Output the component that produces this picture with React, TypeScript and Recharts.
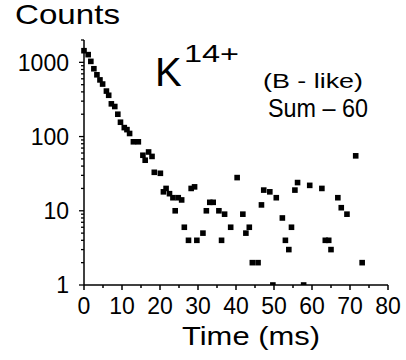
import { ScatterChart, Scatter, XAxis, YAxis } from "recharts";

// decay time (ms) and counts
const times = [
  0, 1.1, 1.8, 2.6, 3.4, 4.2, 4.9, 5.9, 6.5, 7.2, 8.1, 8.9, 9.6, 10.6, 11.3, 12, 13, 14.3, 15.5, 16.1,
  17, 17.9, 18.5, 20.1, 20.9, 21.6, 22.5, 23.4, 24, 24.8, 25.7, 26.4, 27.5, 28.2, 29.1, 29.7, 31.3, 32.2,
  33.1, 34, 35.5, 36.2, 37, 38.6, 40.3, 41.8, 42.6, 43.5, 44.3, 45.8, 46.7, 47.3, 48.9, 49.7, 50.6, 52.2,
  53, 53.9, 54.6, 55.5, 56.2, 57.8, 59.4, 62.6, 63.5, 64.4, 65, 66.8, 67.7, 69.2, 71.5, 73.2,
];
const counts = [
  1435, 1270, 1030, 820, 680, 580, 510, 410, 360, 276, 254, 200, 156, 132, 124, 110, 85, 85, 56, 48,
  62, 54, 33, 32, 18, 20, 17, 15, 10, 15, 14, 6, 4, 20, 21, 4, 5, 10, 13, 13,
  10, 4, 9, 6, 28, 9, 5, 6, 2, 2, 12, 19, 18, 1, 15, 8, 4, 3, 6, 19,
  24, 1, 22, 20, 4, 4, 3, 15, 11, 9, 55, 2,
];
const xTicks = [0, 5, 10, 15, 20, 25, 30, 35, 40, 45, 50, 55, 60, 65, 70, 75, 80];
const yTicks = [
  1, 2, 3, 4, 5, 6, 7, 8, 9, 10, 20, 30, 40, 50, 60, 70, 80, 90,
  100, 200, 300, 400, 500, 600, 700, 800, 900, 1000, 2000,
];
const yLabels = [1, 10, 100, 1000];

const data = times.map((t, i) => ({ t, c: counts[i] }));

const FONT = "'Liberation Sans', Arial, Helvetica, sans-serif";

function XTick(props: any) {
  const { x, y, payload } = props;
  const major = payload.value % 10 === 0;
  return (
    <g>
      <line x1={x} x2={x} y1={y} y2={y + (major ? 5 : 3)} stroke="#000" strokeWidth={1.5} />
      {major && (
        <text x={x} y={y + 29} textAnchor="middle" fontSize={23} fontFamily={FONT} fill="#000">
          {payload.value}
        </text>
      )}
    </g>
  );
}

function YTick(props: any) {
  const { x, y, payload } = props;
  const major = yLabels.includes(payload.value);
  return (
    <g>
      <line x1={x - (major ? 5 : 3)} x2={x} y1={y} y2={y} stroke="#000" strokeWidth={1.3} />
      {major && (
        <text x={x - 15} y={y} dy="0.36em" textAnchor="end" fontSize={23} fontFamily={FONT} fill="#000">
          {payload.value}
        </text>
      )}
    </g>
  );
}

function Dot(props: any) {
  const { cx, cy } = props;
  return <rect x={cx - 2.8} y={cy - 2.8} width={5.6} height={5.6} fill="#000" />;
}

export default function App() {
  return (
    <div style={{ position: "absolute", left: 0, top: 0, width: 406, height: 360, background: "#fff" }}>
      <ScatterChart width={406} height={360} margin={{ top: 40, right: 18, bottom: 35, left: 14 }}>
        <XAxis
          type="number"
          dataKey="t"
          domain={[0, 80]}
          ticks={xTicks}
          interval={0}
          tick={<XTick />}
          tickLine={false}
          tickSize={0}
          tickMargin={0}
          height={40}
          axisLine={{ stroke: "#000", strokeWidth: 1.5 }}
        />
        <YAxis
          type="number"
          dataKey="c"
          scale="log"
          domain={[1, 2000]}
          allowDataOverflow
          ticks={yTicks}
          interval={0}
          tick={<YTick />}
          tickLine={false}
          tickSize={0}
          tickMargin={0}
          width={70}
          axisLine={{ stroke: "#000", strokeWidth: 1.5 }}
        />
        <Scatter data={data} shape={<Dot />} isAnimationActive={false} />
      </ScatterChart>
      <svg
        width={406}
        height={360}
        style={{ position: "absolute", left: 0, top: 0, pointerEvents: "none" }}
        fontFamily={FONT}
      >
        <text x={15} y={24} fontSize={28} textLength={105} lengthAdjust="spacingAndGlyphs">Counts</text>
        <text x={182} y={345} fontSize={26} textLength={138} lengthAdjust="spacingAndGlyphs">Time (ms)</text>
        <text x={155} y={86} fontSize={40}>K</text>
        <text x={184} y={62} fontSize={23} textLength={55} lengthAdjust="spacingAndGlyphs">14+</text>
        <text x={263} y={88} fontSize={21} textLength={100} lengthAdjust="spacingAndGlyphs">(B - like)</text>
        <text x={268} y={117} fontSize={26} textLength={100} lengthAdjust="spacingAndGlyphs">Sum – 60</text>
      </svg>
    </div>
  );
}
